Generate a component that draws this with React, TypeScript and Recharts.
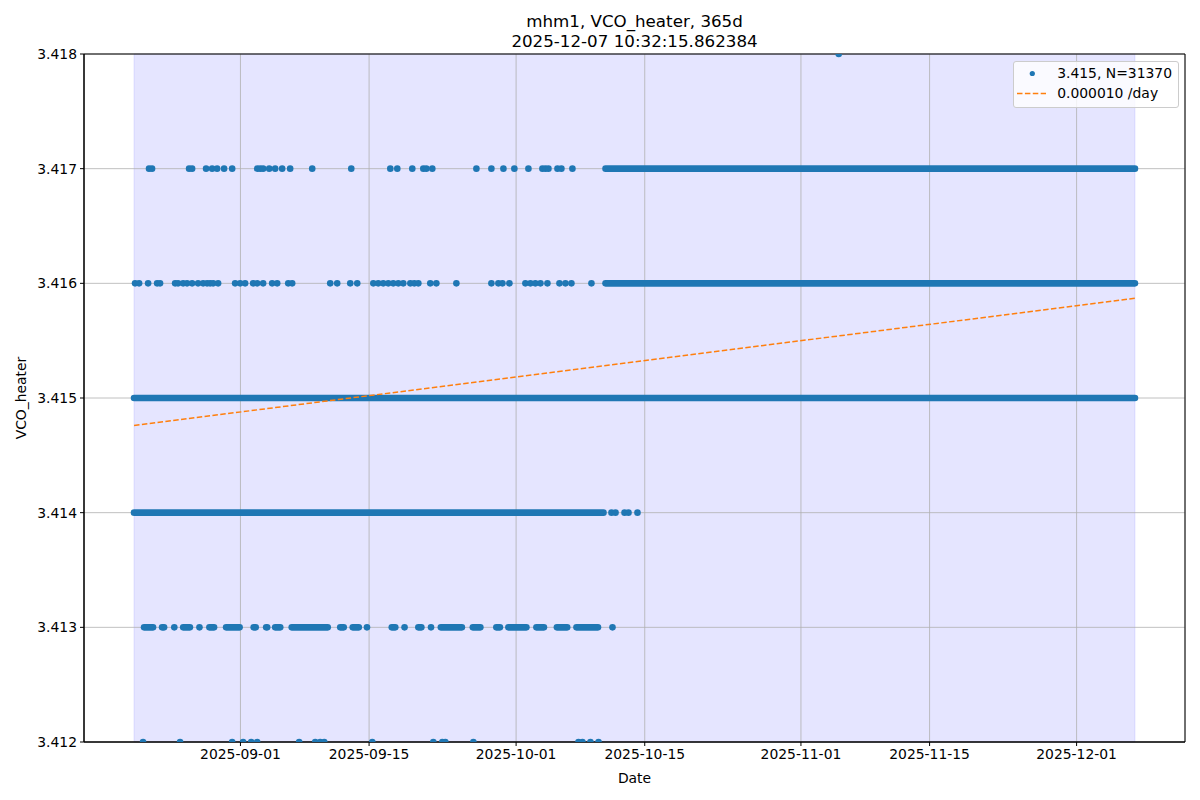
import React from 'react';
import {
  ComposedChart,
  Scatter,
  Line,
  XAxis,
  YAxis,
  CartesianGrid,
  ReferenceArea,
  ReferenceLine,
  Legend,
} from 'recharts';

// x values are days since 2025-09-01 (UTC)
const BASE = Date.UTC(2025, 8, 1);
const dayOf = (s: string) => (Date.parse(s + 'T00:00:00Z') - BASE) / 86400000;

const X_TICK_LABELS = ['2025-09-01', '2025-09-15', '2025-10-01', '2025-10-15', '2025-11-01', '2025-11-15', '2025-12-01'];
const Y_TICKS = [3.412, 3.413, 3.414, 3.415, 3.416, 3.417, 3.418];

// data window (shaded span) and the fitted trend at both ends
const SPAN = [-11.58, 97.35];
const TREND = [3.41476, 3.41587];
const MEAN_LABEL = '3.415';
const N_POINTS = 31370;
const SLOPE = 0.00001;

// isolated samples per level
const DOTS_3418 = [65.11];
const DOTS_3417 = [-9.95, -9.62, -5.59, -5.26, -3.74, -3.08, -2.54, -1.78, -0.9, 1.82, 2.15, 2.47, 3.13, 3.78, 4.54, 5.41, 7.81, 12.06, 16.31, 17.07, 18.7, 19.9, 20.23, 20.88, 25.68, 27.31, 28.62, 29.81, 31.34, 32.86, 33.19, 33.52, 34.5, 34.93, 36.13];
const DOTS_3416 = [-11.47, -11.03, -10.05, -9.07, -8.75, -7.11, -6.79, -6.24, -5.81, -5.26, -4.61, -4.06, -3.63, -3.3, -2.97, -2.43, -0.58, -0.03, 0.51, 1.38, 1.82, 2.47, 3.45, 4.0, 5.2, 5.63, 9.77, 10.53, 11.95, 12.71, 14.46, 15.0, 15.54, 16.09, 16.63, 17.18, 17.72, 18.49, 18.92, 19.36, 20.66, 21.32, 23.5, 27.31, 28.07, 28.51, 29.27, 31.01, 31.56, 32.1, 32.65, 33.41, 34.72, 35.37, 36.02, 38.2];
const DOTS_3414 = [40.38, 40.82, 41.8, 42.23, 43.21];
const DOTS_3413 = [-7.2, -4.46, 13.77, 17.86, 20.74, 40.49];
const DOTS_3412 = [-10.6, -6.57, -0.9, 0.29, 1.17, 1.82, 6.39, 8.14, 8.68, 9.12, 14.35, 20.99, 21.97, 22.3, 25.35, 36.79, 37.22, 38.09, 38.97];

// stretches where samples are packed so tight they merge: [from, to]
const RUNS_3417 = [[39.73, 97.35]];
const RUNS_3416 = [[39.73, 97.35]];
const RUNS_3415 = [[-11.58, 97.35]];
const RUNS_3414 = [[-11.58, 39.51]];
const RUNS_3413 = [
  [-10.49, -9.51], [-8.53, -8.31], [-6.23, -5.5], [-3.38, -2.87], [-1.56, -0.09], [1.44, 1.66],
  [2.8, 2.91], [3.78, 4.33], [5.58, 9.5], [10.86, 11.24], [12.22, 12.88], [16.47, 16.85],
  [19.36, 19.69], [21.81, 24.1], [25.29, 26.11], [27.85, 28.24], [29.16, 31.12], [32.21, 33.03],
  [34.44, 35.56], [36.57, 38.91],
];

const BLUE = '#1f77b4';
const ORANGE = '#ff7f0e';
const FONT = 'DejaVu Sans';

const dotData = [
  ...DOTS_3418.map((day) => ({ day, v: 3.418 })),
  ...DOTS_3417.map((day) => ({ day, v: 3.417 })),
  ...DOTS_3416.map((day) => ({ day, v: 3.416 })),
  ...DOTS_3414.map((day) => ({ day, v: 3.414 })),
  ...DOTS_3413.map((day) => ({ day, v: 3.413 })),
  ...DOTS_3412.map((day) => ({ day, v: 3.412 })),
];

const runs = [
  ...RUNS_3417.map((r) => ({ v: 3.417, r })),
  ...RUNS_3416.map((r) => ({ v: 3.416, r })),
  ...RUNS_3415.map((r) => ({ v: 3.415, r })),
  ...RUNS_3414.map((r) => ({ v: 3.414, r })),
  ...RUNS_3413.map((r) => ({ v: 3.413, r })),
];

const trendData = [
  { day: SPAN[0], v: TREND[0] },
  { day: SPAN[1], v: TREND[1] },
];

const range = SPAN[1] - SPAN[0];
const X_DOMAIN = [SPAN[0] - 0.05 * range, SPAN[1] + 0.05 * range];
const X_TICKS = X_TICK_LABELS.map(dayOf);

const YTitle = (props: any) => {
  const { viewBox } = props;
  const cx = viewBox.x + 21;
  const cy = viewBox.y + viewBox.height / 2;
  return (
    <text
      x={cx}
      y={cy}
      transform={`rotate(-90, ${cx}, ${cy})`}
      textAnchor="middle"
      dominantBaseline="central"
      fontSize={13.9}
      fontFamily={FONT}
      fill="#000"
    >
      VCO_heater
    </text>
  );
};

const LegendBox = () => (
  <div
    style={{
      display: 'inline-block',
      background: 'rgba(255,255,255,0.8)',
      border: '1px solid #cccccc',
      borderRadius: 3,
      padding: '1px 6px 4px 3px',
      fontSize: 13.9,
      fontFamily: FONT,
      color: '#000',
      lineHeight: '20px',
      whiteSpace: 'nowrap',
    }}
  >
    <div style={{ display: 'flex', alignItems: 'center', height: 20 }}>
      <svg width={29} height={20}>
        <circle cx={15.3} cy={10.5} r={2.6} fill={BLUE} />
      </svg>
      <span style={{ marginLeft: 11 }}>{`${MEAN_LABEL}, N=${N_POINTS}`}</span>
    </div>
    <div style={{ display: 'flex', alignItems: 'center', height: 20 }}>
      <svg width={29} height={20}>
        <line x1={0} x2={29} y1={10.5} y2={10.5} stroke={ORANGE} strokeWidth={1.5} strokeDasharray="5.5 2.4" />
      </svg>
      <span style={{ marginLeft: 11 }}>{`${SLOPE.toFixed(6)} /day`}</span>
    </div>
  </div>
);

export default function App() {
  return (
    <div
      style={{
        position: 'absolute',
        left: 0,
        top: 0,
        width: 1200,
        height: 800,
        background: '#fff',
        fontFamily: FONT,
      }}
    >
      <div
        style={{
          position: 'absolute',
          left: 84,
          top: 11,
          width: 1101,
          textAlign: 'center',
          fontSize: 16.7,
          lineHeight: '20px',
          color: '#000',
          zIndex: 2,
        }}
      >
        <div>mhm1, VCO_heater, 365d</div>
        <div>2025-12-07 10:32:15.862384</div>
      </div>
      <ComposedChart width={1200} height={800} margin={{ top: 54, right: 15, bottom: 0, left: 0 }}>
        <ReferenceArea
          x1={SPAN[0]}
          x2={SPAN[1]}
          y1={3.412}
          y2={3.418}
          fill="#0000ff"
          fillOpacity={0.1}
          stroke="#0000ff"
          strokeOpacity={0.1}
          zIndex={-200}
        />
        <CartesianGrid stroke="#b0b0b0" strokeWidth={0.8} zIndex={-100} />
        <XAxis
          dataKey="day"
          type="number"
          domain={X_DOMAIN}
          allowDataOverflow
          ticks={X_TICKS}
          tickFormatter={(d: number) => X_TICK_LABELS[X_TICKS.indexOf(d)] ?? ''}
          height={58}
          stroke="#000"
          tickSize={4}
          tickMargin={3}
          tick={{ fill: '#000', fontSize: 13.9, fontFamily: FONT }}
          label={{ value: 'Date', position: 'insideBottom', offset: 17, fill: '#000', fontSize: 13.9, fontFamily: FONT }}
        />
        <YAxis
          dataKey="v"
          type="number"
          domain={[3.412, 3.418]}
          allowDataOverflow
          ticks={Y_TICKS}
          tickFormatter={(v: number) => v.toFixed(3)}
          width={84}
          stroke="#000"
          tickSize={4}
          tickMargin={3}
          tick={{ fill: '#000', fontSize: 13.9, fontFamily: FONT }}
          label={<YTitle />}
        />
        {runs.map((s, i) => (
          <ReferenceLine
            key={i}
            segment={[
              { x: s.r[0], y: s.v },
              { x: s.r[1], y: s.v },
            ]}
            stroke={BLUE}
            strokeWidth={6.6}
            strokeLinecap="round"
          />
        ))}
        <Scatter
          data={dotData}
          isAnimationActive={false}
          shape={(p: any) => <circle cx={p.cx} cy={p.cy} r={3.3} fill={BLUE} />}
        />
        <Line
          data={trendData}
          dataKey="v"
          stroke={ORANGE}
          strokeWidth={1.5}
          strokeDasharray="5.5 2.4"
          dot={false}
          activeDot={false}
          isAnimationActive={false}
        />
        <ReferenceArea
          x1={X_DOMAIN[0]}
          x2={X_DOMAIN[1]}
          y1={3.412}
          y2={3.418}
          fill="none"
          stroke="#000"
          strokeWidth={1}
        />
        <Legend
          layout="horizontal"
          verticalAlign="middle"
          align="center"
          content={() => <LegendBox />}
          wrapperStyle={{ top: 61, right: 21, left: 'auto', width: 'auto' }}
        />
      </ComposedChart>
    </div>
  );
}
